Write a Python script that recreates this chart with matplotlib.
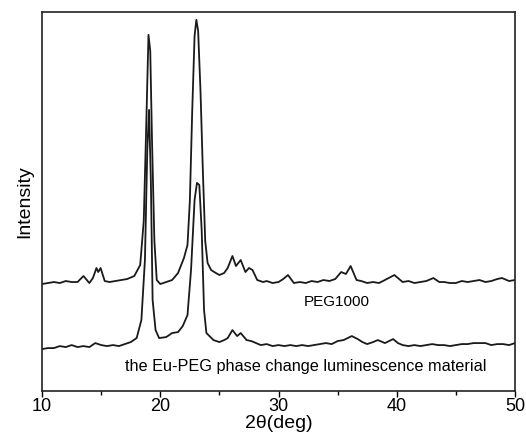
import matplotlib
matplotlib.use("Agg")
import matplotlib.pyplot as plt
from matplotlib.ticker import MultipleLocator, NullLocator

plt.rcParams['font.family'] = ['Liberation Sans', 'DejaVu Sans']

# PEG1000 pattern (2theta in deg, intensity in arbitrary units)
peg_x = [10, 10.5, 11, 11.5, 12, 12.5, 13.0, 13.5, 14.0, 14.3, 14.6, 14.75, 14.95, 15.3, 15.7,
         16.2, 16.7, 17.2, 17.8, 18.3, 18.6, 18.8,
         19.0, 19.15, 19.3, 19.5, 19.7, 20, 20.5, 21, 21.5, 22, 22.3, 22.5, 22.7, 22.9, 23.05, 23.2,
         23.4, 23.6, 23.8, 24.0, 24.3, 24.7, 25, 25.4, 25.7, 26.1, 26.4, 26.8, 27.2, 27.5, 27.8,
         28.2, 28.7, 29, 29.5, 30, 30.4, 30.8, 31.3, 31.8, 32.3, 32.8, 33.3, 33.8, 34.3, 34.8,
         35.3, 35.7, 36.1, 36.6, 37.0, 37.5, 38.0, 38.5, 39.0, 39.8, 40.5, 41.0, 41.5, 42.0, 42.5,
         43.1, 43.6, 44, 44.5, 45, 45.5, 46, 46.5, 47, 47.5, 48, 48.5, 48.9, 49.5, 50]
peg_y = [107, 108, 109, 108, 110, 109, 109, 115, 108, 113, 123, 119, 123, 110, 109,
         110, 111, 112, 115, 126, 170, 260,
         356, 340, 250, 150, 111, 107, 109, 111, 118, 133, 146, 190, 280, 355, 371, 360,
         300, 220, 150, 128, 121, 118, 116, 118, 123, 135, 125, 131, 119, 123, 121,
         111, 109, 110, 108, 109, 112, 116, 108, 109, 108, 110, 109, 111, 110, 112,
         119, 117, 125, 111, 110, 108, 109, 108, 111, 116, 109, 110, 108, 109, 110,
         113, 109, 109, 108, 108, 110, 109, 110, 111, 109, 110, 112, 113, 110, 111]

# Eu-PEG phase change luminescence material pattern
eu_x = [10, 10.5, 11, 11.5, 12, 12.5, 13, 13.5, 14, 14.5, 15, 15.5, 16, 16.5, 17, 17.5, 18.0,
        18.4, 18.7, 18.9, 19.05, 19.2, 19.35,
        19.6, 19.9, 20.5, 21.0, 21.5, 21.9, 22.3, 22.6, 22.9, 23.1, 23.3, 23.5, 23.7, 23.9,
        24.5, 25, 25.4, 25.7, 26.1, 26.5, 26.8, 27.3, 27.7, 28.1, 28.5, 29, 29.5, 30, 30.5, 31,
        31.5, 32, 32.5, 33, 33.5, 34, 34.5, 35, 35.5, 36.2, 36.7, 37.1, 37.5, 38.0, 38.4, 39.0,
        39.7, 40.1, 40.5, 41, 41.5, 42, 42.5, 43, 43.5, 44, 44.5, 45, 45.5, 46, 46.5, 47, 47.5,
        48, 48.5, 49, 49.5, 50]
eu_y = [42, 43, 43, 45, 44, 46, 44, 45, 44, 48, 46, 45, 46, 45, 47, 49, 53,
        71, 131, 241, 281, 211, 91,
        61, 53, 54, 58, 59, 65, 76, 121, 191, 208, 206, 161, 81, 58,
        51, 49, 51, 53, 61, 55, 58, 51, 50, 48, 46, 47, 45, 46, 45, 46,
        45, 46, 45, 46, 47, 48, 47, 50, 51, 55, 52, 49, 47, 49, 51, 48,
        52, 48, 46, 45, 46, 45, 46, 47, 46, 46, 45, 46, 47, 47, 48, 48, 48,
        46, 47, 47, 46, 48]

fig = plt.figure(figsize=(5.26, 4.37), dpi=100)
ax = fig.add_axes([0.080, 0.105, 0.899, 0.868])

ax.plot(peg_x, peg_y, color='#1a1a1a', lw=1.3)
ax.plot(eu_x, eu_y, color='#1a1a1a', lw=1.3)

ax.set_xlim(10, 50)
ax.set_ylim(0, 379)
ax.xaxis.set_major_locator(MultipleLocator(10))
ax.xaxis.set_minor_locator(MultipleLocator(5))
ax.yaxis.set_major_locator(NullLocator())
ax.tick_params(axis='x', which='major', direction='out', length=4, width=1, labelsize=13, pad=1)
ax.tick_params(axis='x', which='minor', direction='out', length=3, width=1)
for s in ax.spines.values():
    s.set_linewidth(1.2)
    s.set_color('#222222')

ax.text(34.9, 391 - 302, 'PEG1000', fontsize=11, ha='center', va='center')
ax.text(32.3, 391 - 366, 'the Eu-PEG phase change luminescence material', fontsize=11.7,
        ha='center', va='center')

ax.set_xlabel('2θ(deg)', fontsize=14, labelpad=0)
ax.set_ylabel('Intensity', fontsize=14, labelpad=6)

fig.savefig('out.png', dpi=100)
